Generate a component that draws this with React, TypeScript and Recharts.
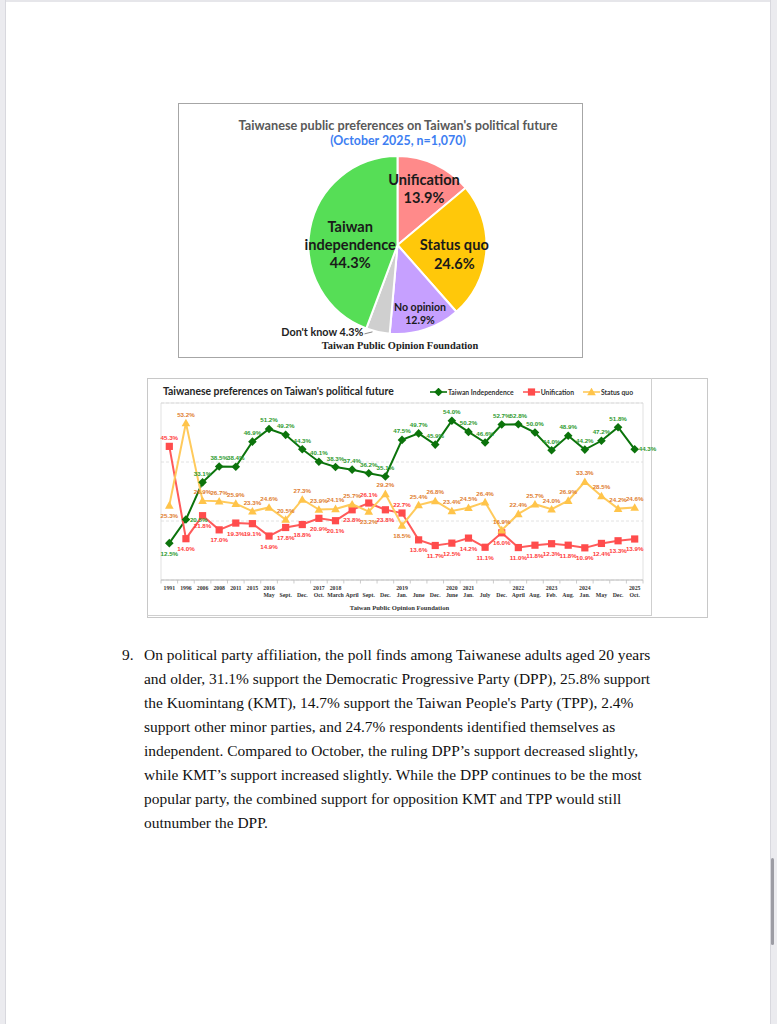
import React from 'react';
import { PieChart, Pie, Cell, LineChart, Line, XAxis, YAxis, CartesianGrid, ReferenceArea, LabelList } from 'recharts';

// ---------------- Pie chart data ----------------
const pieNames = ['Unification', 'Status quo', 'No opinion', "Don't know", 'Taiwan independence'];
const pieValues = [13.9, 24.6, 12.9, 4.3, 44.3];
const pieColors = ['#FF8A8A', '#FFC80A', '#C6A0FF', '#CFCFCF', '#56DE56'];

// ---------------- Line chart data ----------------
const periods = ['1991', '1996', '2006', '2008', '2011', '2015', '2016 May', '2016 Sept.', '2016 Dec.', '2017 Oct.', '2018 March', '2018 April', '2018 Sept.', '2018 Dec.', '2019 Jan.', '2019 June', '2019 Dec.', '2020 June', '2021 Jan.', '2021 July', '2021 Dec.', '2022 April', '2022 Aug.', '2023 Feb.', '2023 Aug.', '2024 Jan.', '2024 May', '2024 Dec.', '2025 Oct.'];
const tickYears = ['1991', '1996', '2006', '2008', '2011', '2015', '2016', '', '', '2017', '2018', '', '', '', '2019', '', '', '2020', '2021', '', '', '2022', '', '2023', '', '2024', '', '', '2025'];
const tickMonths = ['', '', '', '', '', '', 'May', 'Sept.', 'Dec.', 'Oct.', 'March', 'April', 'Sept.', 'Dec.', 'Jan.', 'June', 'Dec.', 'June', 'Jan.', 'July', 'Dec.', 'April', 'Aug.', 'Feb.', 'Aug.', 'Jan.', 'May', 'Dec.', 'Oct.'];
const independence = [12.5, 20.5, 33.1, 38.5, 38.4, 46.9, 51.2, 49.2, 44.3, 40.1, 38.3, 37.4, 36.2, 35.1, 47.5, 49.7, 45.9, 54.0, 50.2, 46.6, 52.7, 52.8, 50.0, 44.0, 48.9, 44.2, 47.2, 51.8, 44.3];
const unification = [45.3, 14.0, 21.8, 17.0, 19.3, 19.1, 14.9, 17.8, 18.8, 20.9, 20.1, 23.8, 26.1, 23.8, 22.7, 13.6, 11.7, 12.5, 14.2, 11.1, 16.0, 11.0, 11.8, 12.3, 11.8, 10.9, 12.4, 13.3, 13.9];
const statusQuo = [25.3, 53.2, 26.9, 26.7, 25.9, 23.3, 24.6, 20.5, 27.3, 23.9, 24.1, 25.7, 23.2, 29.2, 18.5, 25.4, 26.8, 23.4, 24.5, 26.4, 16.9, 22.4, 25.7, 24.0, 26.9, 33.3, 28.5, 24.2, 24.6];
const yTicks = [0, 20, 40, 60];
const seriesNames = ['Taiwan Independence', 'Unification', 'Status quo'];

const pieData = pieNames.map((name, i) => ({ name, value: pieValues[i] }));
const lineData = periods.map((period, i) => ({
  period,
  independence: independence[i],
  unification: unification[i],
  statusQuo: statusQuo[i],
}));

// ---------------- styles ----------------
const LC_W = 559;
const LC_H = 237;
const LC_MARGIN = { top: 24, right: 64, bottom: 6, left: 13 };
const BAND = (LC_W - LC_MARGIN.left - LC_MARGIN.right) / periods.length;

const SERIES = [
  { key: 'independence', line: '#0B730B', marker: '#0B730B', label: '#2E9A2E', shape: 'diamond', defPos: 'top', exceptions: { 0: 'bottom', 1: 'right', 28: 'right' } as Record<number, string> },
  { key: 'unification', line: '#FF5A5A', marker: '#FF4C4C', label: '#FF3A3A', shape: 'square', defPos: 'bottom', exceptions: { 0: 'top', 12: 'top', 14: 'top' } as Record<number, string> },
  { key: 'statusQuo', line: '#FFCA5C', marker: '#FFC44A', label: '#E07C2E', shape: 'triangle', defPos: 'top', exceptions: { 0: 'bottom', 12: 'bottom', 14: 'bottom' } as Record<number, string> },
];

const Marker = ({ cx, cy, shape, color }: any) => {
  if (cx == null || cy == null) return null;
  if (shape === 'diamond') {
    const d = 4.3;
    return <polygon points={`${cx},${cy - d} ${cx + d},${cy} ${cx},${cy + d} ${cx - d},${cy}`} fill={color} />;
  }
  if (shape === 'square') {
    return <rect x={cx - 3.6} y={cy - 3.6} width={7.2} height={7.2} fill={color} />;
  }
  return <polygon points={`${cx},${cy - 4.3} ${cx + 4.3},${cy + 3.3} ${cx - 4.3},${cy + 3.3}`} fill={color} />;
};

const XTick = (props: any) => {
  const { x, y, index } = props;
  const serif = '"Liberation Serif", "DejaVu Serif", serif';
  return (
    <g>
      <line x1={x - BAND / 2} x2={x - BAND / 2} y1={y} y2={y + 3.5} stroke="#BFBFBF" strokeWidth={0.8} />
      {index === periods.length - 1 && (
        <line x1={x + BAND / 2} x2={x + BAND / 2} y1={y} y2={y + 3.5} stroke="#BFBFBF" strokeWidth={0.8} />
      )}
      <text x={x} y={y + 10} textAnchor="middle" fontSize={5.8} fontWeight="bold" fontFamily={serif} fill="#333">
        {tickYears[index]}
      </text>
      <text x={x} y={y + 16.5} textAnchor="middle" fontSize={5.8} fontWeight="bold" fontFamily={serif} fill="#333">
        {tickMonths[index]}
      </text>
    </g>
  );
};

const makeLabel = (s: typeof SERIES[number]) => (props: any) => {
  const { x, y, value, index } = props;
  if (x == null || y == null) return null;
  const pos = s.exceptions[index] || s.defPos;
  let tx = x;
  let ty = y - 6.5;
  let anchor: any = 'middle';
  if (pos === 'bottom') ty = y + 12.5;
  if (pos === 'right') {
    tx = x + 4;
    ty = y + 2;
    anchor = 'start';
  }
  return (
    <text key={`l-${s.key}-${index}`} x={tx} y={ty} textAnchor={anchor} fontSize={6.2} fontWeight="bold" fontFamily='"Liberation Sans", Arial, sans-serif' fill={s.label}>
      {`${Number(value).toFixed(1)}%`}
    </text>
  );
};

const pieLabelStyle: Record<string, { r: number; dy: number; size: number; lh: number }> = {
  Unification: { r: 0.705, dy: 0, size: 14.6, lh: 18 },
  'Status quo': { r: 0.64, dy: 4, size: 14.6, lh: 19 },
  'No opinion': { r: 0.81, dy: 0, size: 10.6, lh: 13.5 },
  'Taiwan independence': { r: 0.54, dy: 7.5, size: 14.6, lh: 18 },
};

const LATO = 'Lato, "Open Sans", sans-serif';

const renderPieLabel = (props: any) => {
  const { cx, cy, midAngle, outerRadius, name, value, index } = props;
  const rad = Math.PI / 180;
  const cos = Math.cos(-midAngle * rad);
  const sin = Math.sin(-midAngle * rad);
  if (name === "Don't know") {
    const px = cx + (outerRadius - 3) * cos;
    const py = cy + (outerRadius - 3) * sin;
    return (
      <g key={`pl-${index}`}>
        <line x1={px - 6} y1={py + 3} x2={px - 14} y2={py + 5} stroke="#888" strokeWidth={1} />
        <text x={px - 15} y={py + 3} textAnchor="end" dominantBaseline="central" fontSize={10.8} fontWeight="bold" fontFamily={LATO} fill="#222">
          {`${name} ${value}%`}
        </text>
      </g>
    );
  }
  const st = pieLabelStyle[name];
  const lines = name === 'Taiwan independence' ? name.split(' ') : [name];
  lines.push(`${value}%`);
  const x = cx + outerRadius * st.r * cos;
  const y = cy + outerRadius * st.r * sin + st.dy;
  const y0 = y - ((lines.length - 1) * st.lh) / 2;
  return (
    <text key={`pl-${index}`} x={x} y={y0} textAnchor="middle" dominantBaseline="central" fontSize={st.size} fontWeight="bold" fontFamily={LATO} fill="#1A1A1A">
      {lines.map((l, i) => (
        <tspan key={i} x={x} y={y0 + i * st.lh}>
          {l}
        </tspan>
      ))}
    </text>
  );
};

const LegendIcon = ({ s }: any) => (
  <svg width={17} height={8} style={{ display: 'block' }}>
    <line x1={0} y1={4} x2={17} y2={4} stroke={s.line} strokeWidth={1.6} />
    <Marker cx={8.5} cy={4} shape={s.shape} color={s.marker} />
  </svg>
);

const bodyLines = [
  'On political party affiliation, the poll finds among Taiwanese adults aged 20 years',
  'and older, 31.1% support the Democratic Progressive Party (DPP), 25.8% support',
  "the Kuomintang (KMT), 14.7% support the Taiwan People's Party (TPP), 2.4%",
  'support other minor parties, and 24.7% respondents identified themselves as',
  'independent. Compared to October, the ruling DPP\u2019s support decreased slightly,',
  'while KMT\u2019s support increased slightly. While the DPP continues to be the most',
  'popular party, the combined support for opposition KMT and TPP would still',
  'outnumber the DPP.',
];

export default function App() {
  return (
    <div style={{ position: 'absolute', left: 0, top: 0, width: 777, height: 1024, background: '#fff', overflow: 'hidden' }}>
      {/* viewer chrome */}
      <div style={{ position: 'absolute', left: 0, top: 0, width: 777, height: 1.5, background: '#E6E6EA' }} />
      <div style={{ position: 'absolute', left: 0, top: 0, width: 5, height: 1024, background: '#EBEBEF' }} />
      <div style={{ position: 'absolute', left: 5, top: 0, width: 1, height: 1024, background: '#D8D8DE' }} />
      <div style={{ position: 'absolute', left: 770, top: 0, width: 7, height: 1024, background: '#EBEBEF' }} />
      <div style={{ position: 'absolute', left: 770, top: 0, width: 1, height: 1024, background: '#D8D8DE' }} />
      <div style={{ position: 'absolute', left: 771, top: 858, width: 3, height: 87, background: '#9C9CA4', borderRadius: 1.5 }} />

      {/* Pie chart */}
      <div style={{ position: 'absolute', left: 178, top: 103, width: 405, height: 255, border: '1px solid #A6A6A6', boxSizing: 'border-box', background: '#fff' }}>
        <div style={{ position: 'absolute', left: 19, top: 13, width: 400, textAlign: 'center', fontFamily: LATO, fontWeight: 'bold', fontSize: 12.7, lineHeight: '16px', color: '#595959', whiteSpace: 'nowrap' }}>
          Taiwanese public preferences on Taiwan's political future
        </div>
        <div style={{ position: 'absolute', left: 19, top: 29, width: 400, textAlign: 'center', fontFamily: LATO, fontWeight: 'bold', fontSize: 12.4, lineHeight: '16px', color: '#3D7EF2', whiteSpace: 'nowrap' }}>
          (October 2025, n=1,070)
        </div>
        <PieChart width={403} height={253}>
          <Pie
            data={pieData}
            dataKey="value"
            nameKey="name"
            cx={213.5}
            cy={136}
            outerRadius={89}
            startAngle={90}
            endAngle={-270}
            stroke="#ffffff"
            strokeWidth={2}
            isAnimationActive={false}
            label={renderPieLabel}
            labelLine={false}
          >
            {pieData.map((d, i) => (
              <Cell key={d.name} fill={pieColors[i]} />
            ))}
          </Pie>
        </PieChart>
        <div style={{ position: 'absolute', left: 21, top: 236, width: 400, textAlign: 'center', fontFamily: '"Liberation Serif", serif', fontWeight: 'bold', fontSize: 10.4, lineHeight: '12px', color: '#222', whiteSpace: 'nowrap' }}>
          Taiwan Public Opinion Foundation
        </div>
      </div>

      {/* Line chart: outer picture frame */}
      <div style={{ position: 'absolute', left: 147, top: 378, width: 561, height: 240, border: '1px solid #C8C8C8', boxSizing: 'border-box', background: '#fff' }}>
        {/* inner chart-area frame */}
        <div style={{ position: 'absolute', left: -1, top: -1, width: 505, height: 238, borderRight: '1px solid #CFCFCF', borderBottom: '1px solid #CFCFCF', boxSizing: 'border-box' }} />
        <div style={{ position: 'absolute', left: 15, top: 6, fontFamily: LATO, fontWeight: 'bold', fontSize: 10.4, lineHeight: '13px', color: '#262626', whiteSpace: 'nowrap' }}>
          Taiwanese preferences on Taiwan's political future
        </div>
        <div style={{ position: 'absolute', left: 282, top: 9, display: 'flex', alignItems: 'center', fontFamily: LATO, fontWeight: 'bold', fontSize: 6.8, lineHeight: '8px', color: '#333', whiteSpace: 'nowrap' }}>
          {SERIES.map((s, i) => (
            <div key={s.key} style={{ display: 'flex', alignItems: 'center', marginRight: 9 }}>
              <LegendIcon s={s} />
              <span style={{ marginLeft: 1 }}>{seriesNames[i]}</span>
            </div>
          ))}
        </div>
        <LineChart width={LC_W} height={LC_H} data={lineData} margin={LC_MARGIN}>
          <CartesianGrid vertical={false} stroke="#E2E2E2" strokeDasharray="3 2" />
          <ReferenceArea x1={periods[0]} x2={periods[periods.length - 1]} y1={0} y2={60} fill="none" stroke="#D9D9D9" strokeWidth={0.8} ifOverflow="visible" />
          <XAxis dataKey="period" scale="band" interval={0} height={30} tickLine={false} tickSize={0} tickMargin={0} axisLine={{ stroke: '#BFBFBF', strokeWidth: 0.8 }} tick={<XTick />} />
          <YAxis hide type="number" domain={[0, 60]} ticks={yTicks} />
          {SERIES.map((s) => (
            <Line
              key={s.key}
              type="linear"
              dataKey={s.key}
              stroke={s.line}
              strokeWidth={2}
              isAnimationActive={false}
              dot={(p: any) => <Marker key={`d-${s.key}-${p.index}`} cx={p.cx} cy={p.cy} shape={s.shape} color={s.marker} />}
              activeDot={false}
            >
              <LabelList dataKey={s.key} content={makeLabel(s)} />
            </Line>
          ))}
        </LineChart>
        <div style={{ position: 'absolute', left: 0, top: 225, width: 503, textAlign: 'center', fontFamily: '"Liberation Serif", serif', fontWeight: 'bold', fontSize: 6.6, lineHeight: '8px', color: '#333', whiteSpace: 'nowrap' }}>
          Taiwan Public Opinion Foundation
        </div>
      </div>

      {/* Body paragraph */}
      <div style={{ position: 'absolute', left: 122, top: 643, fontFamily: '"Liberation Serif", "Times New Roman", serif', fontSize: 15.45, lineHeight: '24px', color: '#111' }}>
        <div style={{ position: 'absolute', left: 0, top: 0 }}>9.</div>
        <div style={{ position: 'absolute', left: 22, top: 0, whiteSpace: 'nowrap' }}>
          {bodyLines.map((l, i) => (
            <div key={i}>{l}</div>
          ))}
        </div>
      </div>
    </div>
  );
}
